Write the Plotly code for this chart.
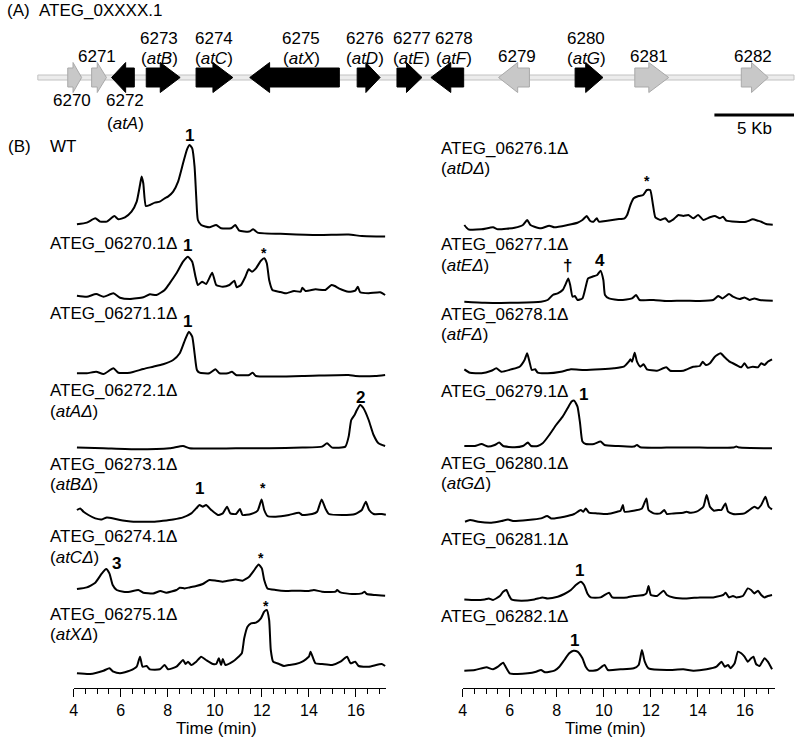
import plotly.graph_objects as go

FIG_W, FIG_H = 795, 738
FONT = "Liberation Sans, Arial, Helvetica, sans-serif"
FS = 17

# ---------------- Gene map data (kb along the locus) ----------------
gene_ids = ["6270", "6271", "6272", "6273", "6274", "6275", "6276",
            "6277", "6278", "6279", "6280", "6281", "6282"]
gene_names = ["", "", "atA", "atB", "atC", "atX", "atD", "atE", "atF", "", "atG", "", ""]
gene_start = [1.88, 3.38, 4.63, 6.81, 9.94, 13.31, 20.06, 22.56, 24.69, 28.94, 33.75, 37.50, 44.19]
gene_end = [2.75, 4.31, 6.06, 8.94, 12.25, 18.94, 21.50, 24.13, 26.75, 30.88, 35.50, 39.63, 45.88]
gene_strand = [1, 1, -1, 1, 1, -1, 1, 1, -1, -1, 1, 1, 1]
gene_in_cluster = [False, False, True, True, True, True, True, True, True, False, True, False, False]
locus_length_kb = 47.5
scale_bar_kb = 5

# ---------------- Chromatogram data (time in min, relative intensity) ----------------
t_wt = [4.14, 4.56, 4.92, 5.13, 5.41, 5.73, 5.90, 6.18, 6.46, 6.68, 6.82, 6.89, 6.96, 7.07, 7.24,
        7.45, 7.66, 7.87, 8.01, 8.23, 8.44, 8.65, 8.82, 8.93, 9.04, 9.14, 9.21, 9.28, 9.42, 9.77,
        10.06, 10.27, 10.69, 10.87, 11.04, 11.46, 11.63, 11.82, 13.01, 14.42, 15.69, 16.25, 17.24]
i_wt = [13, 14.7, 19, 15.7, 15.7, 21.3, 18, 20, 25.7, 35.7, 52.3, 60.7, 54, 31.3, 32.3,
        34.7, 35.7, 39, 40.7, 45.7, 55.7, 74, 88, 92.3, 89, 70.7, 40.7, 17.3, 12.3, 10,
        12.3, 9, 9, 12.3, 6.7, 5.7, 8, 4.7, 3.3, 2.3, 2.7, 1.3, 0.7]

t_6270 = [4.14, 4.56, 4.96, 5.27, 5.69, 5.97, 6.39, 6.96, 7.24, 7.52, 7.87, 8.08, 8.37, 8.65, 8.86,
          9.04, 9.18, 9.28, 9.46, 9.63, 9.89, 10.06, 10.34, 10.62, 10.83, 10.93, 11.11, 11.30, 11.44,
          11.58, 11.75, 11.96, 12.10, 12.21, 12.31, 12.45, 12.73, 13.01, 13.37, 13.65, 13.72, 13.86,
          14.28, 14.70, 14.96, 15.10, 15.27, 15.69, 15.97, 16.08, 16.18, 16.54, 17.03, 17.24]
i_6270 = [3.3, 2.3, 5, 2.3, 5.7, 1.3, 0, 1.7, 4.7, 4, 9, 15.7, 25.7, 37.3, 42.3,
          37.3, 22.3, 14, 17.3, 15, 26.3, 14, 12.3, 14, 18.3, 11.7, 14, 22.3, 29.7,
          27.3, 30.7, 38.3, 40.7, 35.7, 19, 9, 7.3, 5.7, 8, 7.3, 11.3, 8,
          9.7, 9, 14, 13, 10.7, 7.3, 8.3, 12.3, 6.7, 5.7, 6.7, 4]

t_6271 = [4.14, 4.56, 4.96, 5.27, 5.69, 5.90, 6.39, 6.96, 7.38, 7.80, 8.23, 8.51, 8.76, 8.90, 9.04,
          9.14, 9.24, 9.35, 9.77, 10.03, 10.20, 10.55, 10.73, 10.90, 11.46, 11.61, 11.75, 13.72,
          15.69, 15.97, 16.82, 17.24]
i_6271 = [2.7, 2.7, 4.3, 2, 7.7, 3.3, 3.3, 7, 9.3, 11.7, 16, 22.7, 37.7, 44.3, 39.3,
          22.7, 6, 3.3, 2.7, 6.7, 2.7, 2.7, 4.3, 1, 1, 3.3, 0, 0,
          1, 0, 0, 1]

t_6272 = [4.14, 5.27, 6.68, 8.08, 8.65, 8.93, 10.90, 12.31, 13.72, 14.56, 14.77, 14.99, 15.55,
          15.69, 15.80, 15.94, 16.04, 16.18, 16.32, 16.54, 16.75, 16.96, 17.24]
i_6272 = [1.7, 1, 0, 1, 3.3, 1, 1, 1, 1.7, 2.7, 6, 1.7, 2.7,
          12.7, 29.3, 34.3, 39.3, 44.3, 41, 29.3, 14.3, 6, 3.3]

t_6273 = [4.14, 4.28, 4.42, 4.63, 4.92, 5.20, 5.41, 5.69, 5.97, 6.25, 6.54, 6.96, 7.38, 7.80, 8.23,
          8.65, 9.00, 9.21, 9.35, 9.49, 9.63, 9.85, 10.13, 10.34, 10.52, 10.66, 10.90, 11.07, 11.18,
          11.54, 11.82, 11.99, 12.10, 12.24, 12.59, 13.15, 13.58, 13.72, 14.14, 14.35, 14.54, 14.70,
          14.85, 15.41, 15.97, 16.25, 16.42, 16.56, 16.75, 17.10, 17.27]
i_6273 = [11.7, 13.3, 10, 6.7, 3.3, 2.3, 4.3, 3.3, 1.7, 0.7, 0, 0, 0, 1, 2.3,
          4.3, 8.3, 13.3, 16.7, 15, 16.7, 11.7, 6.7, 8.3, 15, 8.3, 7.7, 12.7, 6.7,
          7.7, 11, 22.3, 11.7, 5.7, 5, 6.7, 9, 6.7, 7.7, 10, 22.3, 13.3,
          7.7, 6.7, 7.7, 11.7, 20, 11.7, 7.7, 7.7, 7]

t_6274 = [4.14, 4.56, 4.92, 5.20, 5.38, 5.52, 5.66, 5.83, 6.11, 6.39, 6.75, 6.96, 7.38, 7.69, 7.94,
          8.37, 8.51, 8.72, 8.93, 9.21, 9.49, 9.77, 10.06, 10.34, 10.76, 10.90, 11.18, 11.46, 11.68,
          11.86, 12.00, 12.10, 12.24, 12.59, 13.01, 13.44, 14.00, 14.21, 14.56, 15.13, 15.20, 15.34,
          15.83, 16.25, 16.37, 16.46, 16.82, 17.24]
i_6274 = [6.7, 8.3, 13, 22.3, 26.7, 22.3, 10.7, 5.7, 4, 4, 5.7, 3, 2.3, 4.7, 3,
          5.7, 8, 7.3, 8.3, 9.7, 11.7, 15.7, 15, 14, 15.7, 16.3, 15, 19, 25.7,
          31.3, 27.3, 15.7, 7.3, 5.7, 4.7, 5, 4.7, 5.7, 4, 4, 5.7, 3.3,
          1.7, 2.3, 4, 1.7, 0.7, 0]

t_6275 = [4.14, 4.70, 5.27, 5.52, 5.69, 5.97, 6.39, 6.68, 6.82, 6.93, 7.10, 7.24, 7.66, 7.87, 8.01,
          8.37, 8.65, 8.76, 8.86, 9.00, 9.21, 9.42, 9.63, 9.92, 10.06, 10.17, 10.27, 10.34, 10.45,
          10.76, 11.01, 11.15, 11.25, 11.39, 11.54, 11.75, 11.96, 12.10, 12.21, 12.31, 12.38, 12.48,
          12.73, 12.94, 13.15, 13.44, 13.72, 14.00, 14.07, 14.28, 14.56, 14.99, 15.34, 15.62, 15.77,
          15.97, 16.11, 16.54, 17.10, 17.24]
i_6275 = [1.7, 1, 4.3, 6.7, 3.3, 1.7, 4.3, 8.3, 18.3, 8.3, 9, 5.7, 5.7, 10, 5.7,
          8.3, 15, 11, 13.3, 10, 13.3, 18.3, 15, 11, 11, 16.7, 10, 16, 10,
          13.3, 18.3, 21.7, 36.7, 48.3, 51.7, 52.3, 56.7, 63.3, 65, 55, 25, 13.3,
          11, 9, 10, 11, 13.3, 18.3, 23.3, 11.7, 11, 10, 13.3, 18.3, 11.7,
          13.3, 9, 8.3, 11, 9]

t_6276 = [4.07, 4.24, 4.80, 5.29, 5.50, 6.21, 6.56, 6.74, 6.88, 7.05, 7.33, 7.68, 7.90, 8.46, 8.88,
          9.09, 9.27, 9.41, 9.56, 9.70, 9.79, 10.15, 10.57, 10.88, 10.99, 11.13, 11.27, 11.48, 11.67,
          11.83, 11.97, 12.09, 12.19, 12.40, 12.61, 12.75, 12.96, 13.17, 13.38, 13.59, 13.80, 14.01,
          14.23, 14.51, 14.72, 14.93, 15.07, 15.21, 15.63, 16.05, 16.33, 16.55, 16.69, 16.90, 17.18]
i_6276 = [5, 0.7, 0.7, 2.7, 0.7, 2.3, 5, 10, 5, 3.3, 1.7, 4.3, 2.7, 5, 7.3,
          10, 14, 9.3, 8.3, 11.7, 8.3, 9.3, 10.7, 11.7, 15, 25, 31.7, 34, 35,
          40, 40, 25, 12.7, 10, 11.7, 8.3, 10.7, 15, 14, 15, 11.7, 15,
          10, 12.7, 14, 11.7, 13.3, 9.3, 8.3, 8.3, 10.7, 9.3, 8.3, 6, 5.3]

t_6277 = [4.07, 4.94, 6.35, 7.33, 7.61, 7.83, 8.04, 8.25, 8.39, 8.49, 8.57, 8.67, 8.77, 8.88, 9.09,
          9.23, 9.33, 9.51, 9.72, 9.86, 9.98, 10.05, 10.22, 10.71, 11.20, 11.37, 11.52, 12.12, 12.68,
          13.38, 14.08, 14.65, 14.86, 15.04, 15.32, 15.49, 15.77, 15.98, 16.19, 16.40, 16.62, 17.18]
i_6277 = [1, 0, 0, 1, 2.7, 7.7, 9.3, 12.7, 19.3, 24.3, 17.7, 6, 6.7, 2.7, 4.3,
          16, 24.3, 26, 27.7, 32, 22.7, 7.7, 4.3, 2.7, 4.3, 7.7, 2.7, 2.7, 1.7,
          2, 1.7, 2.7, 6.7, 4.3, 8.7, 6, 3.7, 5.3, 2.7, 4.3, 2.7, 2]

t_6278 = [4.07, 4.31, 4.80, 5.22, 5.43, 5.65, 6.07, 6.42, 6.63, 6.74, 6.84, 6.94, 7.08, 7.19, 7.61,
          8.18, 8.60, 9.16, 9.86, 10.43, 10.85, 11.06, 11.13, 11.20, 11.31, 11.41, 11.55, 11.69, 11.83,
          12.26, 12.65, 12.82, 13.38, 13.80, 14.08, 14.20, 14.34, 14.51, 14.72, 14.96, 15.14, 15.35,
          15.63, 15.84, 15.98, 16.12, 16.33, 16.55, 16.69, 16.83, 16.97, 17.15]
i_6278 = [4.7, 1.3, 0.7, 3.3, 5.7, 2.3, 4.7, 7.3, 14, 20.7, 12.3, 4, 4.7, 1.3, 0.7,
          2.3, 4.7, 4, 4.7, 5.7, 7.3, 12.3, 14.7, 12.3, 21.3, 12.3, 7.3, 9.7, 4.7,
          3.3, 6.7, 3.3, 3.3, 7.3, 8, 12.3, 9, 10.7, 17.3, 20.7, 16.7, 12.3,
          9, 6.7, 10.7, 6.3, 7.3, 6.7, 10.7, 9, 12.3, 14.7]

t_6279 = [4.07, 4.52, 4.80, 5.08, 5.36, 5.55, 5.72, 6.21, 6.56, 6.77, 6.91, 7.19, 7.40, 7.68, 7.97,
          8.25, 8.46, 8.63, 8.74, 8.88, 8.99, 9.09, 9.23, 9.58, 9.86, 10.03, 10.57, 11.27, 11.41,
          11.55, 12.68, 14.08, 15.49, 15.63, 15.77, 17.15]
i_6279 = [2.3, 2.3, 4.3, 1.7, 3.3, 5.7, 2.3, 1, 2.3, 5.7, 2.3, 2.3, 5, 13.3, 23.3,
          31.7, 40, 46.7, 47.7, 41.7, 25, 6.7, 4.3, 4.3, 6.7, 3.3, 2.3, 1.7, 3.3,
          1, 0.7, 0.7, 0.7, 1.7, 0.7, 0]

t_6280 = [4.10, 4.31, 4.66, 5.22, 5.65, 5.93, 6.14, 6.77, 7.33, 7.59, 7.76, 8.32, 8.74, 9.02, 9.13,
          9.23, 9.37, 9.72, 10.15, 10.57, 10.71, 10.81, 10.88, 11.27, 11.62, 11.81, 11.90, 12.12, 12.40,
          12.57, 12.68, 12.96, 13.38, 13.52, 13.66, 13.94, 14.23, 14.37, 14.51, 14.68, 14.86, 15.00,
          15.17, 15.28, 15.49, 15.77, 15.98, 16.19, 16.40, 16.55, 16.69, 16.87, 17.01, 17.15]
i_6280 = [1, 2.7, 1, 0, 1.7, 3.3, 1.7, 2.7, 4.3, 6.7, 4.3, 6, 8.7, 12.7, 11,
          14.3, 10, 9.3, 8.7, 11, 12, 17.7, 11, 12, 14.3, 24.3, 12.7, 9.3, 9.3,
          12.7, 8.7, 9.3, 10, 11, 10, 11, 16, 27.7, 16, 12, 12.7, 12.7,
          19.3, 11, 8.7, 8.7, 9.3, 12.7, 16, 14.3, 17.7, 26, 16, 13.3]

t_6281 = [4.07, 4.52, 4.94, 5.11, 5.29, 5.58, 5.72, 5.86, 5.96, 6.07, 6.49, 7.05, 7.40, 7.61, 8.04,
          8.32, 8.60, 8.81, 9.02, 9.16, 9.30, 9.44, 9.86, 10.22, 10.36, 10.99, 11.27, 11.69, 11.81,
          11.90, 12.00, 12.26, 12.54, 12.68, 12.96, 13.52, 14.08, 14.65, 15.07, 15.18, 15.32, 15.49,
          15.63, 15.91, 16.12, 16.26, 16.40, 16.55, 16.69, 16.83, 16.97, 17.15]
i_6281 = [1.3, 0.7, 1.3, 2.3, 0.7, 4.7, 9, 10.7, 5.7, 1.3, 0, 1.3, 3.3, 2.3, 4,
          6.7, 10.7, 15.7, 19, 15.7, 7.3, 3.3, 3.3, 8, 3.3, 3.3, 4.7, 5.7, 7.3,
          14.7, 5.7, 4.7, 10, 5.7, 3.3, 2.3, 3.3, 3.3, 5.7, 8, 3.3, 4.7,
          3.3, 4.7, 12.3, 10.7, 7.3, 10, 5.7, 3.3, 4.7, 5.7]

t_6282 = [4.07, 4.52, 5.01, 5.29, 5.50, 5.72, 5.86, 6.00, 6.28, 6.77, 7.12, 7.33, 7.50, 7.90, 8.11,
          8.32, 8.53, 8.71, 8.88, 9.09, 9.23, 9.37, 9.72, 10.03, 10.17, 10.71, 11.27, 11.48, 11.62,
          11.74, 11.90, 12.68, 13.38, 13.80, 14.37, 14.79, 15.00, 15.14, 15.28, 15.39, 15.56, 15.70,
          15.84, 15.98, 16.12, 16.26, 16.36, 16.47, 16.62, 16.83, 16.97, 17.15]
i_6282 = [3.3, 4, 6.7, 4.7, 7.3, 11.3, 5.7, 0.7, 0, 0.7, 2.3, 4, 1.7, 3.3, 7.3,
          14, 20.7, 23.3, 22.3, 15.7, 7.3, 3.3, 4, 9, 4, 4.7, 5.7, 9, 24,
          12.3, 5.7, 4, 4.7, 3.3, 4.7, 7.3, 12.3, 7.3, 9, 5.7, 10.7, 22.3,
          20.7, 17.3, 12.3, 15.7, 17.3, 10, 8, 15.7, 12.3, 4.7]

samples_left = ["WT", "ATEG_06270.1Δ", "ATEG_06271.1Δ", "ATEG_06272.1Δ",
                "ATEG_06273.1Δ", "ATEG_06274.1Δ", "ATEG_06275.1Δ"]
mutants_left = ["", "", "", "atAΔ", "atBΔ", "atCΔ", "atXΔ"]
samples_right = ["ATEG_06276.1Δ", "ATEG_06277.1Δ", "ATEG_06278.1Δ", "ATEG_06279.1Δ",
                 "ATEG_06280.1Δ", "ATEG_06281.1Δ", "ATEG_06282.1Δ"]
mutants_right = ["atDΔ", "atEΔ", "atFΔ", "", "atGΔ", "", ""]
series_left = [(t_wt, i_wt), (t_6270, i_6270), (t_6271, i_6271), (t_6272, i_6272),
               (t_6273, i_6273), (t_6274, i_6274), (t_6275, i_6275)]
series_right = [(t_6276, i_6276), (t_6277, i_6277), (t_6278, i_6278), (t_6279, i_6279),
                (t_6280, i_6280), (t_6281, i_6281), (t_6282, i_6282)]

# peak annotations: (column, row, text, time, level)
peak_labels = [
    (0, 0, "1", 8.93, 101.5),
    (0, 1, "1", 8.86, 54), (0, 1, "*", 12.08, 49),
    (0, 2, "1", 8.86, 54),
    (0, 3, "2", 16.18, 52.3),
    (0, 4, "1", 9.36, 33.7), (0, 4, "*", 12.03, 36.7),
    (0, 5, "3", 5.82, 32.7), (0, 5, "*", 11.95, 40.7),
    (0, 6, "*", 12.16, 72),
    (1, 0, "*", 11.84, 52),
    (1, 1, "†", 8.46, 37.7), (1, 1, "4", 9.82, 42),
    (1, 3, "1", 9.15, 54.3),
    (1, 5, "1", 8.98, 30.7),
    (1, 6, "1", 8.77, 34),
]
time_ticks = [4, 6, 8, 10, 12, 14, 16]

# ---------------- layout geometry (pixels / kb) ----------------
left_bottom_px = [237.3, 299, 376, 449.3, 521.7, 595.7, 675]
right_bottom_px = [230, 302.7, 374, 448.3, 522.7, 600.7, 674]
left_label_px = [146.7, 243.7, 313.3, 390.7, 464, 536.7, 614]
right_label_px = [148.3, 245, 314, 391.7, 463.3, 539.3, 616.7]
col_x_px = [(70, 384), (461, 775)]
label_x_px = [44, 437]
axis_y_px = 687.5
axis_title_px = [(214, 728.5), (605, 728.5)]
t_range = [4, 17.28]
gene_label_kb = [2.13, 3.69, 5.50, 7.63, 11.06, 16.56, 20.56, 23.50, 26.13, 30.13, 34.44, 38.38, 44.94]


def pxx(p):
    return p / FIG_W


def pxy(p):
    return 1 - p / FIG_H


fig = go.Figure()
layout = {}
ann = []
font_base = dict(family=FONT, size=FS, color="black")

columns = [
    ("x", samples_left, mutants_left, series_left, left_bottom_px, left_label_px),
    ("x2", samples_right, mutants_right, series_right, right_bottom_px, right_label_px),
]
k = 0
yname_of = {}
for c, (xname, samples, mutants, series, bottoms, labpx) in enumerate(columns):
    xkey = "xaxis" if xname == "x" else "xaxis2"
    layout[xkey] = dict(
        domain=[pxx(col_x_px[c][0]), pxx(col_x_px[c][1])], range=t_range,
        anchor="free", position=pxy(axis_y_px), showgrid=False, zeroline=False,
        showline=True, linecolor="black", linewidth=1.3,
        ticks="outside", ticklen=8, tickwidth=1.3, tickcolor="black",
        tickmode="array", tickvals=time_ticks, ticktext=[str(v) for v in time_ticks],
        minor=dict(dtick=0.5, tick0=4, ticks="outside", ticklen=5, tickwidth=1.3,
                   tickcolor="black", showgrid=False),
        tickfont=dict(family=FONT, size=16, color="black"),
        fixedrange=True,
    )
    ann.append(dict(text="Time (min)", xref="paper", yref="paper",
                    x=pxx(axis_title_px[c][0]), y=pxy(axis_title_px[c][1]),
                    xanchor="center", yanchor="middle", showarrow=False, font=font_base))
    for r, (tt, ii) in enumerate(series):
        k += 1
        yname = "y" if k == 1 else f"y{k}"
        ykey = "yaxis" if k == 1 else f"yaxis{k}"
        yname_of[(c, r)] = yname
        levels = [p[4] for p in peak_labels if p[0] == c and p[1] == r]
        top = max([max(ii)] + [lv + 12 for lv in levels]) + 4
        b = bottoms[r]
        layout[ykey] = dict(domain=[pxy(b + 3), pxy(b - top)], range=[-3, top],
                            visible=False, anchor=xname, fixedrange=True)
        fig.add_trace(go.Scatter(x=tt, y=ii, xaxis=xname, yaxis=yname, mode="lines",
                                 line=dict(color="black", width=2, shape="spline",
                                           smoothing=0.5),
                                 hoverinfo="skip"))
        ann.append(dict(text=samples[r], xref="paper", yref="paper", x=pxx(label_x_px[c]),
                        y=pxy(labpx[r]), xanchor="left", yanchor="middle",
                        showarrow=False, font=font_base))
        if mutants[r]:
            ann.append(dict(text="(<i>" + mutants[r] + "</i>)", xref="paper", yref="paper",
                            x=pxx(label_x_px[c]), y=pxy(labpx[r] + 20.5), xanchor="left",
                            yanchor="middle", showarrow=False, font=font_base))

for (c, r, txt, tm, lev) in peak_labels:
    xname = "x" if c == 0 else "x2"
    if txt == "*":
        ann.append(dict(text="<b>*</b>", xref=xname, yref=yname_of[(c, r)], x=tm, y=lev,
                        yshift=-3, showarrow=False, xanchor="center", yanchor="middle",
                        font=dict(family=FONT, size=14, color="black")))
    else:
        ann.append(dict(text="<b>" + txt + "</b>", xref=xname, yref=yname_of[(c, r)], x=tm,
                        y=lev, showarrow=False, xanchor="center", yanchor="middle",
                        font=dict(family=FONT, size=FS, color="black")))

# ---------------- gene map ----------------
gx_left_px = 34
kb_px = 16.0
layout["xaxis3"] = dict(domain=[0, 1], range=[-gx_left_px / kb_px, (FIG_W - gx_left_px) / kb_px],
                        visible=False, anchor="y15", fixedrange=True)
layout["yaxis15"] = dict(domain=[pxy(135), pxy(20)], range=[-57.5, 57.5], visible=False,
                         anchor="x3", fixedrange=True)
HEAD_KB, HEAD_H, BODY_H, BB_H = 1.25, 15, 9.5, 2.5

fig.add_trace(go.Scatter(x=[0, locus_length_kb, locus_length_kb, 0, 0],
                         y=[-BB_H, -BB_H, BB_H, BB_H, -BB_H], xaxis="x3", yaxis="y15",
                         mode="lines", fill="toself", fillcolor="#ececec",
                         line=dict(color="#c2c2c2", width=1), hoverinfo="skip"))

poly = {True: ([], []), False: ([], [])}
for s, e, d, inc in zip(gene_start, gene_end, gene_strand, gene_in_cluster):
    L = e - s
    hl = min(HEAD_KB, 0.62 * L)
    if d > 0:
        xs = [s, e - hl, e - hl, e, e - hl, e - hl, s, s]
    else:
        xs = [e, s + hl, s + hl, s, s + hl, s + hl, e, e]
    ys = [-BODY_H, -BODY_H, -HEAD_H, 0, HEAD_H, BODY_H, BODY_H, -BODY_H]
    poly[inc][0].extend(xs + [None])
    poly[inc][1].extend(ys + [None])

fig.add_trace(go.Scatter(x=poly[False][0], y=poly[False][1], xaxis="x3", yaxis="y15",
                         mode="lines", fill="toself", fillcolor="#c8c8c8",
                         line=dict(color="#a9a9a9", width=1), hoverinfo="skip"))
fig.add_trace(go.Scatter(x=poly[True][0], y=poly[True][1], xaxis="x3", yaxis="y15",
                         mode="lines", fill="toself", fillcolor="black",
                         line=dict(color="black", width=1), hoverinfo="skip"))

# scale bar
fig.add_trace(go.Scatter(x=[locus_length_kb - scale_bar_kb, locus_length_kb], y=[-37.5, -37.5],
                         xaxis="x3", yaxis="y15", mode="lines",
                         line=dict(color="black", width=3), hoverinfo="skip"))
ann.append(dict(text=f"{scale_bar_kb} Kb", xref="x3", yref="y15",
                x=locus_length_kb - scale_bar_kb / 2, y=-50.5, showarrow=False, font=font_base))

labels_below = {"6270", "6272"}
for gid, name, cx in zip(gene_ids, gene_names, gene_label_kb):
    if gid in labels_below:
        ann.append(dict(text=gid, xref="x3", yref="y15", x=cx, y=-22.5, showarrow=False,
                        font=font_base))
        if name:
            ann.append(dict(text="(<i>" + name + "</i>)", xref="x3", yref="y15", x=cx, y=-45.5,
                            showarrow=False, font=font_base))
    elif name:
        ann.append(dict(text=gid, xref="x3", yref="y15", x=cx, y=39, showarrow=False,
                        font=font_base))
        ann.append(dict(text="(<i>" + name + "</i>)", xref="x3", yref="y15", x=cx, y=19,
                        showarrow=False, font=font_base))
    else:
        ann.append(dict(text=gid, xref="x3", yref="y15", x=cx, y=21, showarrow=False,
                        font=font_base))

# panel labels
for txt, xp, yp in [("(A)", 1, 10.5), ("ATEG_0XXXX.1", 33, 10.5), ("(B)", 2, 146.7)]:
    ann.append(dict(text=txt, xref="paper", yref="paper", x=pxx(xp), y=pxy(yp),
                    xanchor="left", yanchor="middle", showarrow=False, font=font_base))

fig.update_layout(width=FIG_W, height=FIG_H, margin=dict(l=0, r=0, t=0, b=0),
                  paper_bgcolor="white", plot_bgcolor="rgba(0,0,0,0)", showlegend=False,
                  annotations=ann, font=font_base, **layout)
fig.write_html("out.html", config={"displayModeBar": False},
               post_script="document.body.style.margin='0';document.body.style.padding='0';")
